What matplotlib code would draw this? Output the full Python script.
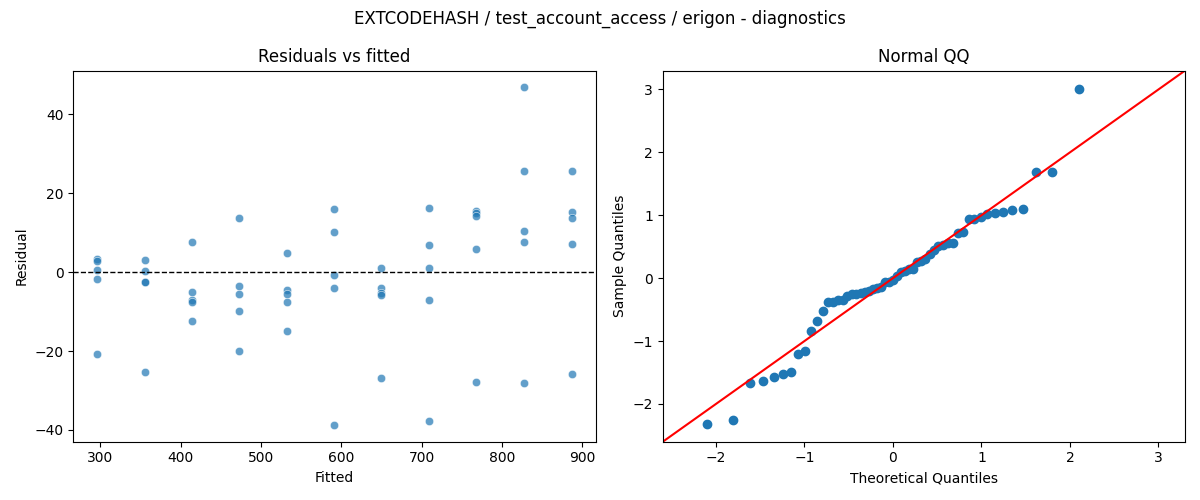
from statistics import NormalDist
import numpy as np
import matplotlib
matplotlib.use('Agg')
import matplotlib.pyplot as plt
import seaborn as sns

# fitted levels and residuals
fitted_levels = [296, 355, 414, 473, 532, 591, 650, 709, 768, 827, 887]
residuals_by_level = [
    [3.4, 2.8, 0.5, -1.8, -20.8],
    [3.0, 0.25, -2.4, -2.5, -25.3],
    [7.6, -5.1, -7.1, -7.6, -12.4],
    [13.7, -3.6, -5.6, -9.9, -20.0],
    [4.8, -4.6, -5.6, -7.6, -14.9],
    [15.9, 10.1, -0.8, -4.1, -38.7],
    [1.0, -4.0, -5.3, -5.9, -26.8],
    [16.2, 6.8, 1.0, -7.1, -37.7],
    [15.4, 15.0, 14.2, 5.8, -27.8],
    [46.8, 25.6, 10.4, 7.6, -28.1],
    [25.6, 15.2, 13.7, 7.1, -25.8],
]

fitted = []
resid = []
for f, rs in zip(fitted_levels, residuals_by_level):
    for r in rs:
        fitted.append(f)
        resid.append(r)
fitted = np.array(fitted, dtype=float)
resid = np.array(resid)

fig, (ax1, ax2) = plt.subplots(1, 2, figsize=(12, 5), dpi=100)

sns.scatterplot(x=fitted, y=resid, ax=ax1, alpha=0.7)
ax1.axhline(0, color='black', linestyle='--', linewidth=1)
ax1.set_title('Residuals vs fitted')
ax1.set_xlabel('Fitted')
ax1.set_ylabel('Residual')

# normal QQ of standardized residuals
n = len(resid)
sample = np.sort((resid - resid.mean()) / resid.std(ddof=1))
nd = NormalDist()
theo = np.array([nd.inv_cdf(i / (n + 1)) for i in range(1, n + 1)])
ax2.plot(theo, sample, 'o', color='C0')
ax2.axline((0, 0), slope=1, color='red')
ax2.set_xlim(-2.6, 3.3)
ax2.set_ylim(-2.6, 3.3)
ax2.set_title('Normal QQ')
ax2.set_xlabel('Theoretical Quantiles')
ax2.set_ylabel('Sample Quantiles')

fig.suptitle('EXTCODEHASH / test_account_access / erigon - diagnostics')
fig.tight_layout()
fig.savefig('out.png')
